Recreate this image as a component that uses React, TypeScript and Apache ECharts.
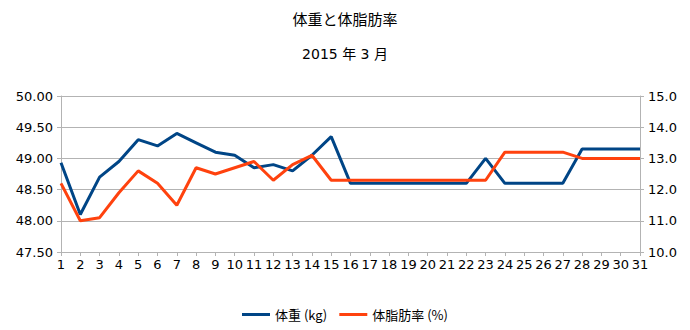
import React, { useEffect, useRef } from "react";
import * as echarts from "echarts";

const days = Array.from({ length: 31 }, (_, i) => String(i + 1));
const weight = [48.93, 48.1, 48.7, 48.95, 49.3, 49.2, 49.4, 49.25, 49.1, 49.05, 48.85, 48.9, 48.8, 49.05, 49.35, 48.6, 48.6, 48.6, 48.6, 48.6, 48.6, 48.6, 49.0, 48.6, 48.6, 48.6, 48.6, 49.15, 49.15, 49.15, 49.15];
const fat = [12.2, 11.0, 11.1, 11.9, 12.6, 12.2, 11.5, 12.7, 12.5, 12.7, 12.9, 12.3, 12.8, 13.1, 12.3, 12.3, 12.3, 12.3, 12.3, 12.3, 12.3, 12.3, 12.3, 13.2, 13.2, 13.2, 13.2, 13.0, 13.0, 13.0, 13.0];
const seriesNames = ["体重 (kg)", "体脂肪率 (%)"];
const titleText = "体重と体脂肪率";
const subtitleText = "2015 年 3 月";

const FONT = "'Noto Sans CJK JP', 'DejaVu Sans', sans-serif";

export default function App() {
  const ref = useRef<HTMLDivElement>(null);
  useEffect(() => {
    const chart = echarts.init(ref.current!, null, { renderer: "svg" });
    const axisLabel = { color: "#000", fontSize: 13, fontFamily: "'DejaVu Sans', sans-serif" };
    chart.setOption({
      animation: false,
      textStyle: { fontFamily: FONT },
      title: {
        text: titleText,
        subtext: subtitleText,
        left: "center",
        top: 6,
        itemGap: 21,
        textStyle: { fontSize: 15, fontWeight: "normal", color: "#000", fontFamily: FONT },
        subtextStyle: { fontSize: 14, color: "#000", fontFamily: "'DejaVu Sans', 'Noto Sans CJK JP', sans-serif" },
      },
      legend: {
        bottom: 4,
        left: "center",
        itemWidth: 28,
        itemHeight: 3,
        itemGap: 12,
        icon: "rect",
        textStyle: { fontSize: 13, color: "#000", fontFamily: FONT },
        data: seriesNames,
      },
      grid: { left: 61, right: 50, top: 96, bottom: 78, containLabel: false },
      xAxis: {
        type: "category",
        data: days,
        boundaryGap: false,
        axisLine: { lineStyle: { color: "#b3b3b3" } },
        axisTick: { show: true, length: 4, lineStyle: { color: "#b3b3b3" }, alignWithLabel: true },
        axisLabel: { ...axisLabel, interval: 0, margin: 6 },
        splitLine: { show: false },
      },
      yAxis: [
        {
          type: "value",
          min: 47.5,
          max: 50,
          interval: 0.5,
          position: "left",
          axisLine: { show: true, lineStyle: { color: "#b3b3b3" } },
          axisTick: { show: true, length: 4, lineStyle: { color: "#b3b3b3" } },
          axisLabel: { ...axisLabel, formatter: (v: number) => v.toFixed(2), margin: 8 },
          splitLine: { show: true, lineStyle: { color: "#b3b3b3" } },
        },
        {
          type: "value",
          min: 10,
          max: 15,
          interval: 1,
          position: "right",
          axisLine: { show: true, lineStyle: { color: "#b3b3b3" } },
          axisTick: { show: true, length: 4, lineStyle: { color: "#b3b3b3" } },
          axisLabel: { ...axisLabel, formatter: (v: number) => v.toFixed(1), margin: 8 },
          splitLine: { show: false },
        },
      ],
      series: [
        {
          name: seriesNames[0],
          type: "line",
          data: weight,
          yAxisIndex: 0,
          showSymbol: false,
          symbol: "none",
          lineStyle: { color: "#004586", width: 3 },
          itemStyle: { color: "#004586" },
        },
        {
          name: seriesNames[1],
          type: "line",
          data: fat,
          yAxisIndex: 1,
          showSymbol: false,
          symbol: "none",
          lineStyle: { color: "#ff420e", width: 3 },
          itemStyle: { color: "#ff420e" },
        },
      ],
    });
    return () => chart.dispose();
  }, []);
  return <div ref={ref} style={{ width: 690, height: 330, position: "absolute", left: 0, top: 0, background: "#fff" }} />;
}
